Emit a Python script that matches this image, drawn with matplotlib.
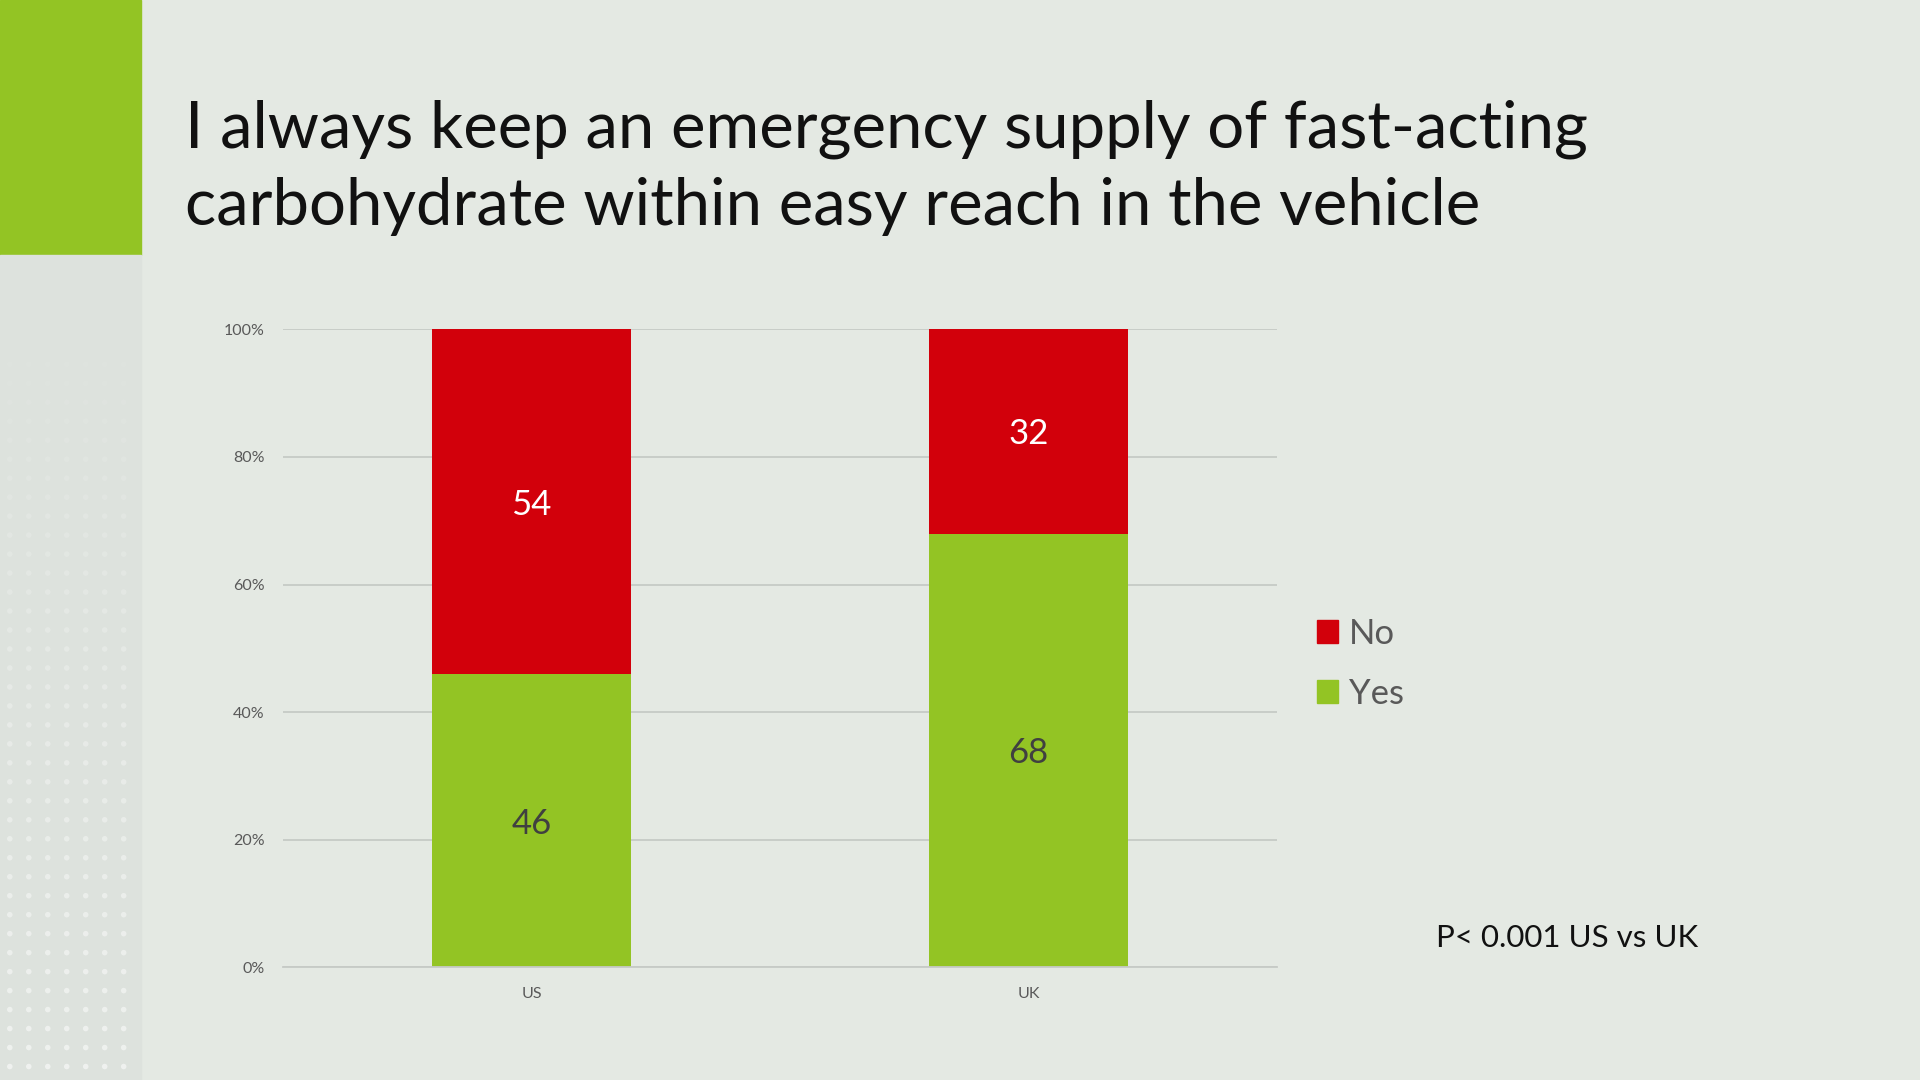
import numpy as np
import matplotlib.pyplot as plt
from matplotlib.patches import Rectangle, Patch
from matplotlib.ticker import PercentFormatter

# data
countries = ['US', 'UK']
yes_pct = [46, 68]
no_pct = [54, 32]
y_ticks = [0, 20, 40, 60, 80, 100]

title = ('I always keep an emergency supply of fast-acting\n'
         'carbohydrate within easy reach in the vehicle')
note = 'P< 0.001 US vs UK'

BG = '#e4e9e3'
GREEN = '#93c424'
RED = '#d2000b'
GRAY_TXT = '#595959'

W, H = 1568, 882  # reference pixel grid, used for placing things


def fx(px):
    return px / W


def fy(py):
    return 1 - py / H


plt.rcParams['font.family'] = ['Lato', 'DejaVu Sans']

fig = plt.figure(figsize=(19.2, 10.8), dpi=100, facecolor=BG)

# slide decoration: green block and dotted side strip
fig.patches.append(Rectangle((0, fy(208)), fx(115), 1 - fy(208),
                             transform=fig.transFigure, color=GREEN, zorder=0))
fig.patches.append(Rectangle((0, 0), fx(115), fy(208),
                             transform=fig.transFigure, color='#dde2dd', zorder=0))
dx, dy = np.meshgrid(np.arange(8, 115, 15.5), np.arange(220, 882, 15.5))
dot_alpha = np.clip((dy - 250) / 632, 0, 1).ravel() * 0.55
dots = fig.add_axes([0, 0, 1, 1], facecolor='none', zorder=1)
dots.set_axis_off()
dots.set_xlim(0, W)
dots.set_ylim(H, 0)
dots.scatter(dx.ravel(), dy.ravel(), s=16, color='white', alpha=dot_alpha,
             linewidths=0)

fig.text(fx(151), fy(137), title, fontsize=47, fontweight='normal',
         color='#111111', va='center', ha='left', linespacing=1.36)

ax = fig.add_axes([fx(231), fy(790), fx(1043) - fx(231), fy(269) - fy(790)],
                  zorder=2)
ax.set_facecolor('none')

x = range(len(countries))
bars_yes = ax.bar(x, yes_pct, width=0.4, color=GREEN, label='Yes', zorder=2)
bars_no = ax.bar(x, no_pct, width=0.4, bottom=yes_pct, color=RED, label='No', zorder=2)

for b, v in zip(bars_yes, yes_pct):
    ax.text(b.get_x() + b.get_width() / 2, b.get_y() + b.get_height() / 2, str(v),
            ha='center', va='center_baseline', fontsize=25, color='#404040', zorder=3)
for b, v in zip(bars_no, no_pct):
    ax.text(b.get_x() + b.get_width() / 2, b.get_y() + b.get_height() / 2, str(v),
            ha='center', va='center_baseline', fontsize=25, color='white', zorder=3)

ax.set_xlim(-0.5, 1.5)
ax.set_ylim(0, 100)
ax.set_yticks(y_ticks)
ax.yaxis.set_major_formatter(PercentFormatter(decimals=0))
ax.set_xticks(list(x))
ax.set_xticklabels(countries)
ax.tick_params(axis='both', length=0, labelsize=11.5, colors=GRAY_TXT)
ax.tick_params(axis='y', pad=13)
ax.tick_params(axis='x', pad=14)
ax.grid(axis='y', color='#c6cac6', linewidth=1.3, zorder=0)
for s in ['top', 'right', 'left']:
    ax.spines[s].set_visible(False)
ax.spines['bottom'].set_color('#c6cac6')
ax.spines['bottom'].set_linewidth(1.3)

handles = [Patch(color=RED), Patch(color=GREEN)]
fig.legend(handles, ['No', 'Yes'], loc='center left',
           bbox_to_anchor=(fx(1050), fy(542)), frameon=False,
           fontsize=25, labelcolor=GRAY_TXT, handlelength=0.62, handleheight=0.62,
           handletextpad=0.3, labelspacing=0.8)

fig.text(fx(1173), fy(766), note, fontsize=22.5, color='#111111',
         ha='left', va='center')

fig.savefig('out.png', dpi=100, facecolor=BG)
